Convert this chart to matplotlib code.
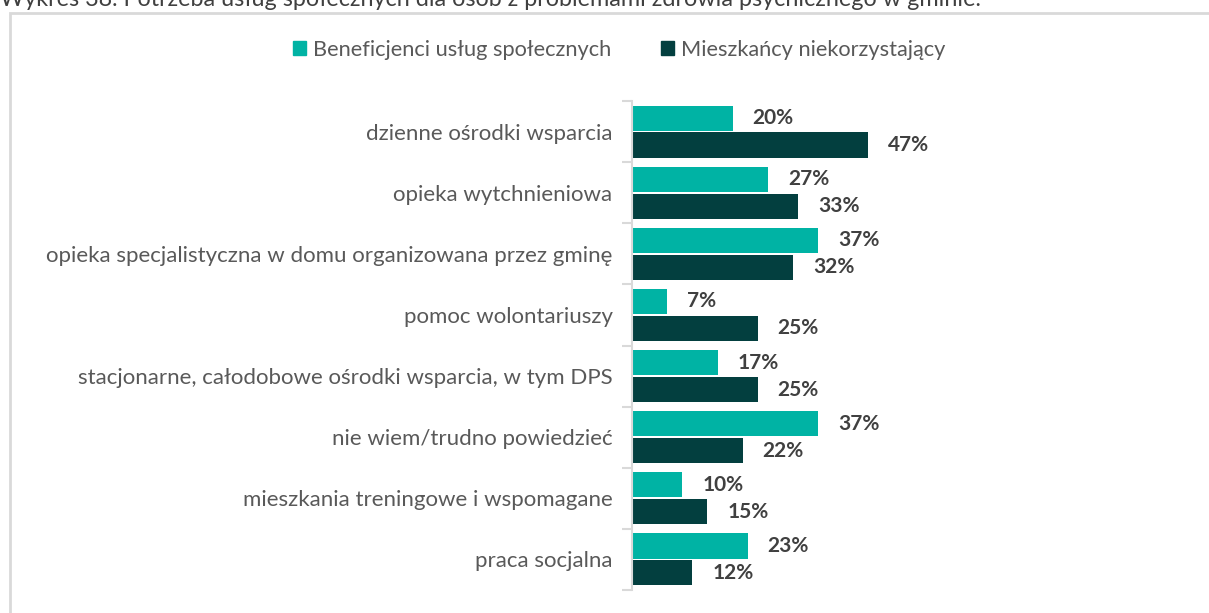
import numpy as np
import matplotlib.pyplot as plt
from matplotlib.patches import Rectangle, Patch

plt.rcParams['font.family'] = ['Lato', 'DejaVu Sans']

categories = [
    "dzienne ośrodki wsparcia",
    "opieka wytchnieniowa",
    "opieka specjalistyczna w domu organizowana przez gminę",
    "pomoc wolontariuszy",
    "stacjonarne, całodobowe ośrodki wsparcia, w tym DPS",
    "nie wiem/trudno powiedzieć",
    "mieszkania treningowe i wspomagane",
    "praca socjalna",
]
beneficjenci = [20, 27, 37, 7, 17, 37, 10, 23]
mieszkancy = [47, 33, 32, 25, 25, 22, 15, 12]
series_names = ["Beneficjenci usług społecznych", "Mieszkańcy niekorzystający"]

teal = "#00B3A4"
dark = "#033F3F"
text_col = "#404040"
label_col = "#595959"
grid_col = "#D9D9D9"

W, H = 1209, 613
fig = plt.figure(figsize=(W / 100, H / 100), dpi=100)

# axes placed in pixel terms: zero line at x=632, groups span y=101..590
x0, x1 = 632, 1190
y_top, y_bot = 101, 590
ax = fig.add_axes([x0 / W, 1 - y_bot / H, (x1 - x0) / W, (y_bot - y_top) / H])
px_per_pct = 5.03
ax.set_xlim(0, (x1 - x0) / px_per_pct)
ax.set_ylim(len(categories) - 0.5, -0.5)

y = np.arange(len(categories))
h = 0.41
off = 0.22
ax.barh(y - off, beneficjenci, height=h, color=teal)
ax.barh(y + off, mieszkancy, height=h, color=dark)

# value labels ~20px past the bar end
pad = 20 / px_per_pct
for yi, v in zip(y, beneficjenci):
    ax.text(v + pad, yi - off, f"{v}%", va="center", ha="left",
            fontsize=15, fontweight="bold", color=text_col)
for yi, v in zip(y, mieszkancy):
    ax.text(v + pad, yi + off, f"{v}%", va="center", ha="left",
            fontsize=15, fontweight="bold", color=text_col)

for s in ["top", "right", "bottom"]:
    ax.spines[s].set_visible(False)
ax.spines["left"].set_color(grid_col)
ax.spines["left"].set_linewidth(1.5)
ax.set_xticks([])

# category labels between tick marks placed at group boundaries
ax.set_yticks(np.arange(-0.5, len(categories), 1))
ax.set_yticklabels([])
ax.set_yticks(y, minor=True)
ax.set_yticklabels(categories, minor=True, fontsize=16, color=label_col)
ax.tick_params(axis="y", which="major", length=7, width=1.5, color=grid_col)
ax.tick_params(axis="y", which="minor", length=0, pad=14)

# legend
handles = [Patch(color=teal), Patch(color=dark)]
fig.legend(handles, series_names, loc="center", ncol=2,
           bbox_to_anchor=(619 / W, 1 - 50 / H), frameon=False,
           fontsize=15.7, labelcolor=label_col, handlelength=0.6,
           handleheight=0.6, handletextpad=0.32, columnspacing=2.3,
           borderaxespad=0, borderpad=0)

# chart border
fig.patches.append(Rectangle((10 / W, -0.1), 1.1, 1 - 13 / H + 0.1,
                             transform=fig.transFigure, fill=False,
                             edgecolor=grid_col, linewidth=2))

fig.text(0, 1 - 6 / H,
         "Wykres 38. Potrzeba usług społecznych dla osób z problemami zdrowia psychicznego w gminie.",
         ha="left", va="baseline", fontsize=16.8, color=text_col)

fig.savefig("out.png", dpi=100)
